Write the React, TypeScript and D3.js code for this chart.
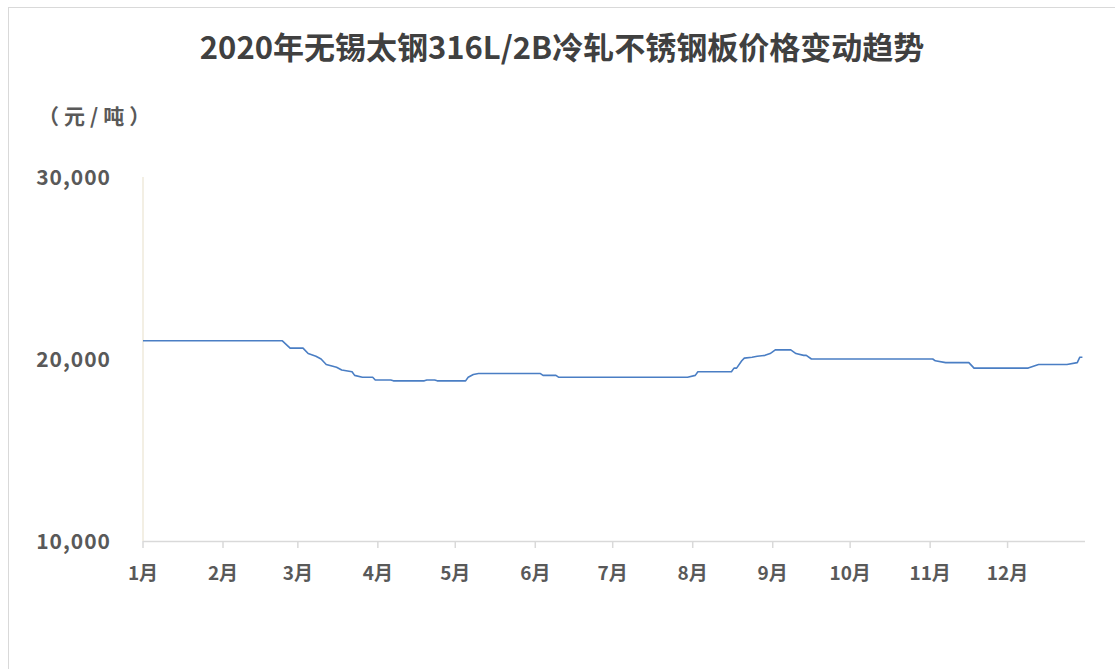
import React from "react";
import * as d3 from "d3";

const title = "2020年无锡太钢316L/2B冷轧不锈钢板价格变动趋势";
const unitLabel = "（元/吨）";
const yTicks = [10000, 20000, 30000];
const monthLabels = ["1月", "2月", "3月", "4月", "5月", "6月", "7月", "8月", "9月", "10月", "11月", "12月"];

const dates = [
  "2020-01-01", "2020-02-24", "2020-02-27", "2020-03-03", "2020-03-05", "2020-03-08",
  "2020-03-10", "2020-03-12", "2020-03-16", "2020-03-18", "2020-03-22", "2020-03-23",
  "2020-03-26", "2020-03-30", "2020-03-31", "2020-04-06", "2020-04-07", "2020-04-19",
  "2020-04-20", "2020-04-23", "2020-04-24", "2020-05-05", "2020-05-06", "2020-05-08",
  "2020-05-10", "2020-06-03", "2020-06-04", "2020-06-09", "2020-06-10", "2020-07-30",
  "2020-08-02", "2020-08-03", "2020-08-16", "2020-08-17", "2020-08-18", "2020-08-20",
  "2020-08-21", "2020-08-24", "2020-08-26", "2020-08-29", "2020-08-31", "2020-09-02",
  "2020-09-08", "2020-09-10", "2020-09-13", "2020-09-14", "2020-09-16", "2020-11-02",
  "2020-11-03", "2020-11-07", "2020-11-16", "2020-11-18", "2020-12-09", "2020-12-13",
  "2020-12-24", "2020-12-28", "2020-12-29", "2020-12-30",
];
const prices = [
  21000, 21000, 20600, 20600, 20300, 20150,
  20000, 19700, 19550, 19400, 19300, 19100,
  19000, 19000, 18850, 18850, 18800, 18800,
  18850, 18850, 18800, 18800, 19000, 19150,
  19200, 19200, 19100, 19100, 19000, 19000,
  19100, 19300, 19300, 19500, 19500, 19900,
  20050, 20100, 20150, 20200, 20300, 20500,
  20500, 20300, 20200, 20200, 20000, 20000,
  19900, 19800, 19800, 19500, 19500, 19700,
  19700, 19800, 20100, 20100,
];

const W = 1115;
const H = 669;
const FONT = "'Noto Sans CJK SC', 'Noto Sans', sans-serif";

export default function App() {
  const parse = d3.timeParse("%Y-%m-%d");
  const x = d3
    .scaleTime()
    .domain([parse("2020-01-01")!, parse("2020-12-31")!])
    .range([143, 1085]);
  const y = d3.scaleLinear().domain([10000, 30000]).range([541, 177]);

  const pts = dates.map((d, i) => ({ d: parse(d)!, v: prices[i] }));
  const line = d3
    .line<{ d: Date; v: number }>()
    .x((p) => x(p.d))
    .y((p) => y(p.v));

  const monthTicks = d3.timeMonth.range(parse("2020-01-01")!, parse("2020-12-31")!);
  const fmt = d3.format(",");

  return (
    <svg
      width={W}
      height={H}
      style={{ position: "absolute", left: 0, top: 0, background: "#fff" }}
    >
      <rect x={8.5} y={7.5} width={W} height={H} fill="#fff" stroke="#d9d9d9" strokeWidth={1} />
      <text
        x={562}
        y={59}
        textAnchor="middle"
        fontFamily={FONT}
        fontWeight="bold"
        fontSize={31}
        fill="#404040"
      >
        {title}
      </text>
      <text
        x={38}
        y={124}
        fontFamily={FONT}
        fontSize={21}
        fontWeight="bold"
        letterSpacing={5}
        fill="#595959"
      >
        {unitLabel}
      </text>
      {/* y axis line */}
      <line x1={143} x2={143} y1={y(30000)} y2={541} stroke="#efeadb" strokeWidth={1.5} />
      {yTicks.map((t) => (
        <text
          key={t}
          x={111}
          y={y(t) + 8}
          textAnchor="end"
          fontFamily={FONT}
          fontWeight="bold"
          fontSize={21}
          letterSpacing={1}
          fill="#595959"
        >
          {fmt(t)}
        </text>
      ))}
      {/* x axis */}
      <line x1={143} x2={1085} y1={541.5} y2={541.5} stroke="#d9d9d9" strokeWidth={1.5} />
      {monthTicks.map((m, i) => (
        <g key={i}>
          <line x1={x(m)} x2={x(m)} y1={541} y2={548} stroke="#d9d9d9" strokeWidth={1.5} />
          <text
            x={x(m)}
            y={580}
            textAnchor="middle"
            fontFamily={FONT}
            fontWeight="bold"
            fontSize={19}
            fill="#595959"
          >
            {monthLabels[i]}
          </text>
        </g>
      ))}
      <path d={line(pts) || ""} fill="none" stroke="#4a7ec4" strokeWidth={1.6} strokeLinejoin="round" />
    </svg>
  );
}
